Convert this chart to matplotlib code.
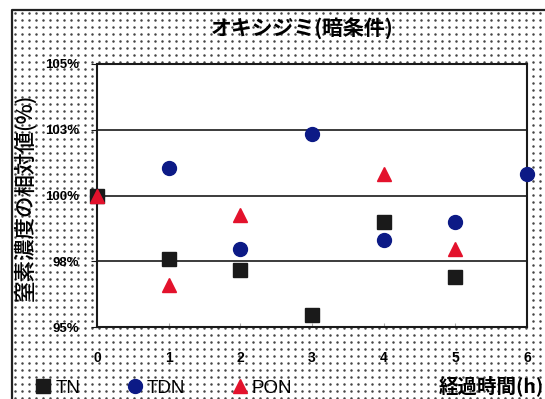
import numpy as np
import matplotlib.pyplot as plt
from matplotlib.lines import Line2D

# data (relative values, %)
tn_t = [0, 1, 2, 3, 4, 5]
tn_v = [100.0, 97.6, 97.15, 95.45, 99.0, 96.9]
tdn_t = [0, 1, 2, 3, 4, 5, 6]
tdn_v = [100.0, 101.05, 97.95, 102.35, 98.3, 99.0, 100.8]
pon_t = [0, 1, 2, 4, 5]
pon_v = [100.0, 96.6, 99.25, 100.8, 97.95]

yticks = [95, 97.5, 100, 102.5, 105]
ylabels = ['95%', '98%', '100%', '103%', '105%']
xticks = [0, 1, 2, 3, 4, 5, 6]

jp = 'Noto Sans CJK JP'
lat = 'Liberation Sans'
W, H = 545, 399

fig = plt.figure(figsize=(5.45, 3.99), dpi=100)

# background axes in pixel units: stipple pattern and outer frame (decoration)
bg = fig.add_axes([0, 0, 1, 1], zorder=-5)
bg.set_xlim(0, W)
bg.set_ylim(H, 0)
bg.axis('off')
gx, gy = np.meshgrid(np.arange(15, W, 7.0), np.arange(13, H, 7.0))
bg.scatter(gx.ravel(), gy.ravel(), s=3.2, color='#444444', linewidths=0)
bg.plot([12, 12, W + 5], [H + 5, 10, 10], color='#222222', lw=1.6)

ax = fig.add_axes([97/W, 1 - 327/H, 430/W, 263/H])
ax.set_facecolor('white')

for y in [97.5, 100, 102.5]:
    ax.axhline(y, color='#1a1a1a', lw=1.2, zorder=1)

ax.plot(tdn_t, tdn_v, 'o', color='#0c1a86', ms=10, ls='none', clip_on=False, zorder=3)
ax.plot(tn_t, tn_v, 's', color='#1a1a1a', ms=9.5, ls='none', clip_on=False, zorder=4)
ax.plot(pon_t, pon_v, '^', color='#e3122c', ms=10, ls='none', clip_on=False, zorder=5)

ax.set_xlim(0, 6)
ax.set_ylim(95, 105)
ax.set_xticks(xticks)
ax.set_xticklabels([str(t) for t in xticks], family=lat, fontsize=10, fontweight='bold')
ax.set_yticks(yticks)
ax.set_yticklabels(ylabels, family=lat, fontsize=9.5, fontweight='bold')
ax.tick_params(axis='x', direction='in', length=3, color='#aaaaaa', pad=17)
ax.tick_params(axis='y', direction='out', length=4, color='#1a1a1a', pad=9)
for s in ax.spines.values():
    s.set_color('#1a1a1a')
    s.set_linewidth(1.5)

fig.text(302/W, 1 - 28/H, 'オキシジミ(暗条件)', family=jp, fontsize=15,
         fontweight='bold', ha='center', va='center')
fig.text(25/W, 1 - 197/H, '窒素濃度の相対値(%)', family=jp, fontsize=15.5,
         fontweight='medium', ha='center', va='center', rotation=90)
fig.text(491/W, 1 - 386/H, '経過時間(h)', family=jp, fontsize=14,
         fontweight='bold', ha='center', va='center')

handles = [
    Line2D([], [], marker='s', color='#1a1a1a', ls='none', ms=9.5),
    Line2D([], [], marker='o', color='#0c1a86', ls='none', ms=10),
    Line2D([], [], marker='^', color='#e3122c', ls='none', ms=10),
]
fig.legend(handles, ['TN', 'TDN', 'PON'], loc='center left',
           bbox_to_anchor=(15/W, 1 - 388/H), ncol=3, frameon=False,
           handletextpad=0.05, columnspacing=2.3, handlelength=1.2,
           prop={'family': lat, 'size': 13.5})

fig.savefig('out.png', dpi=100)
